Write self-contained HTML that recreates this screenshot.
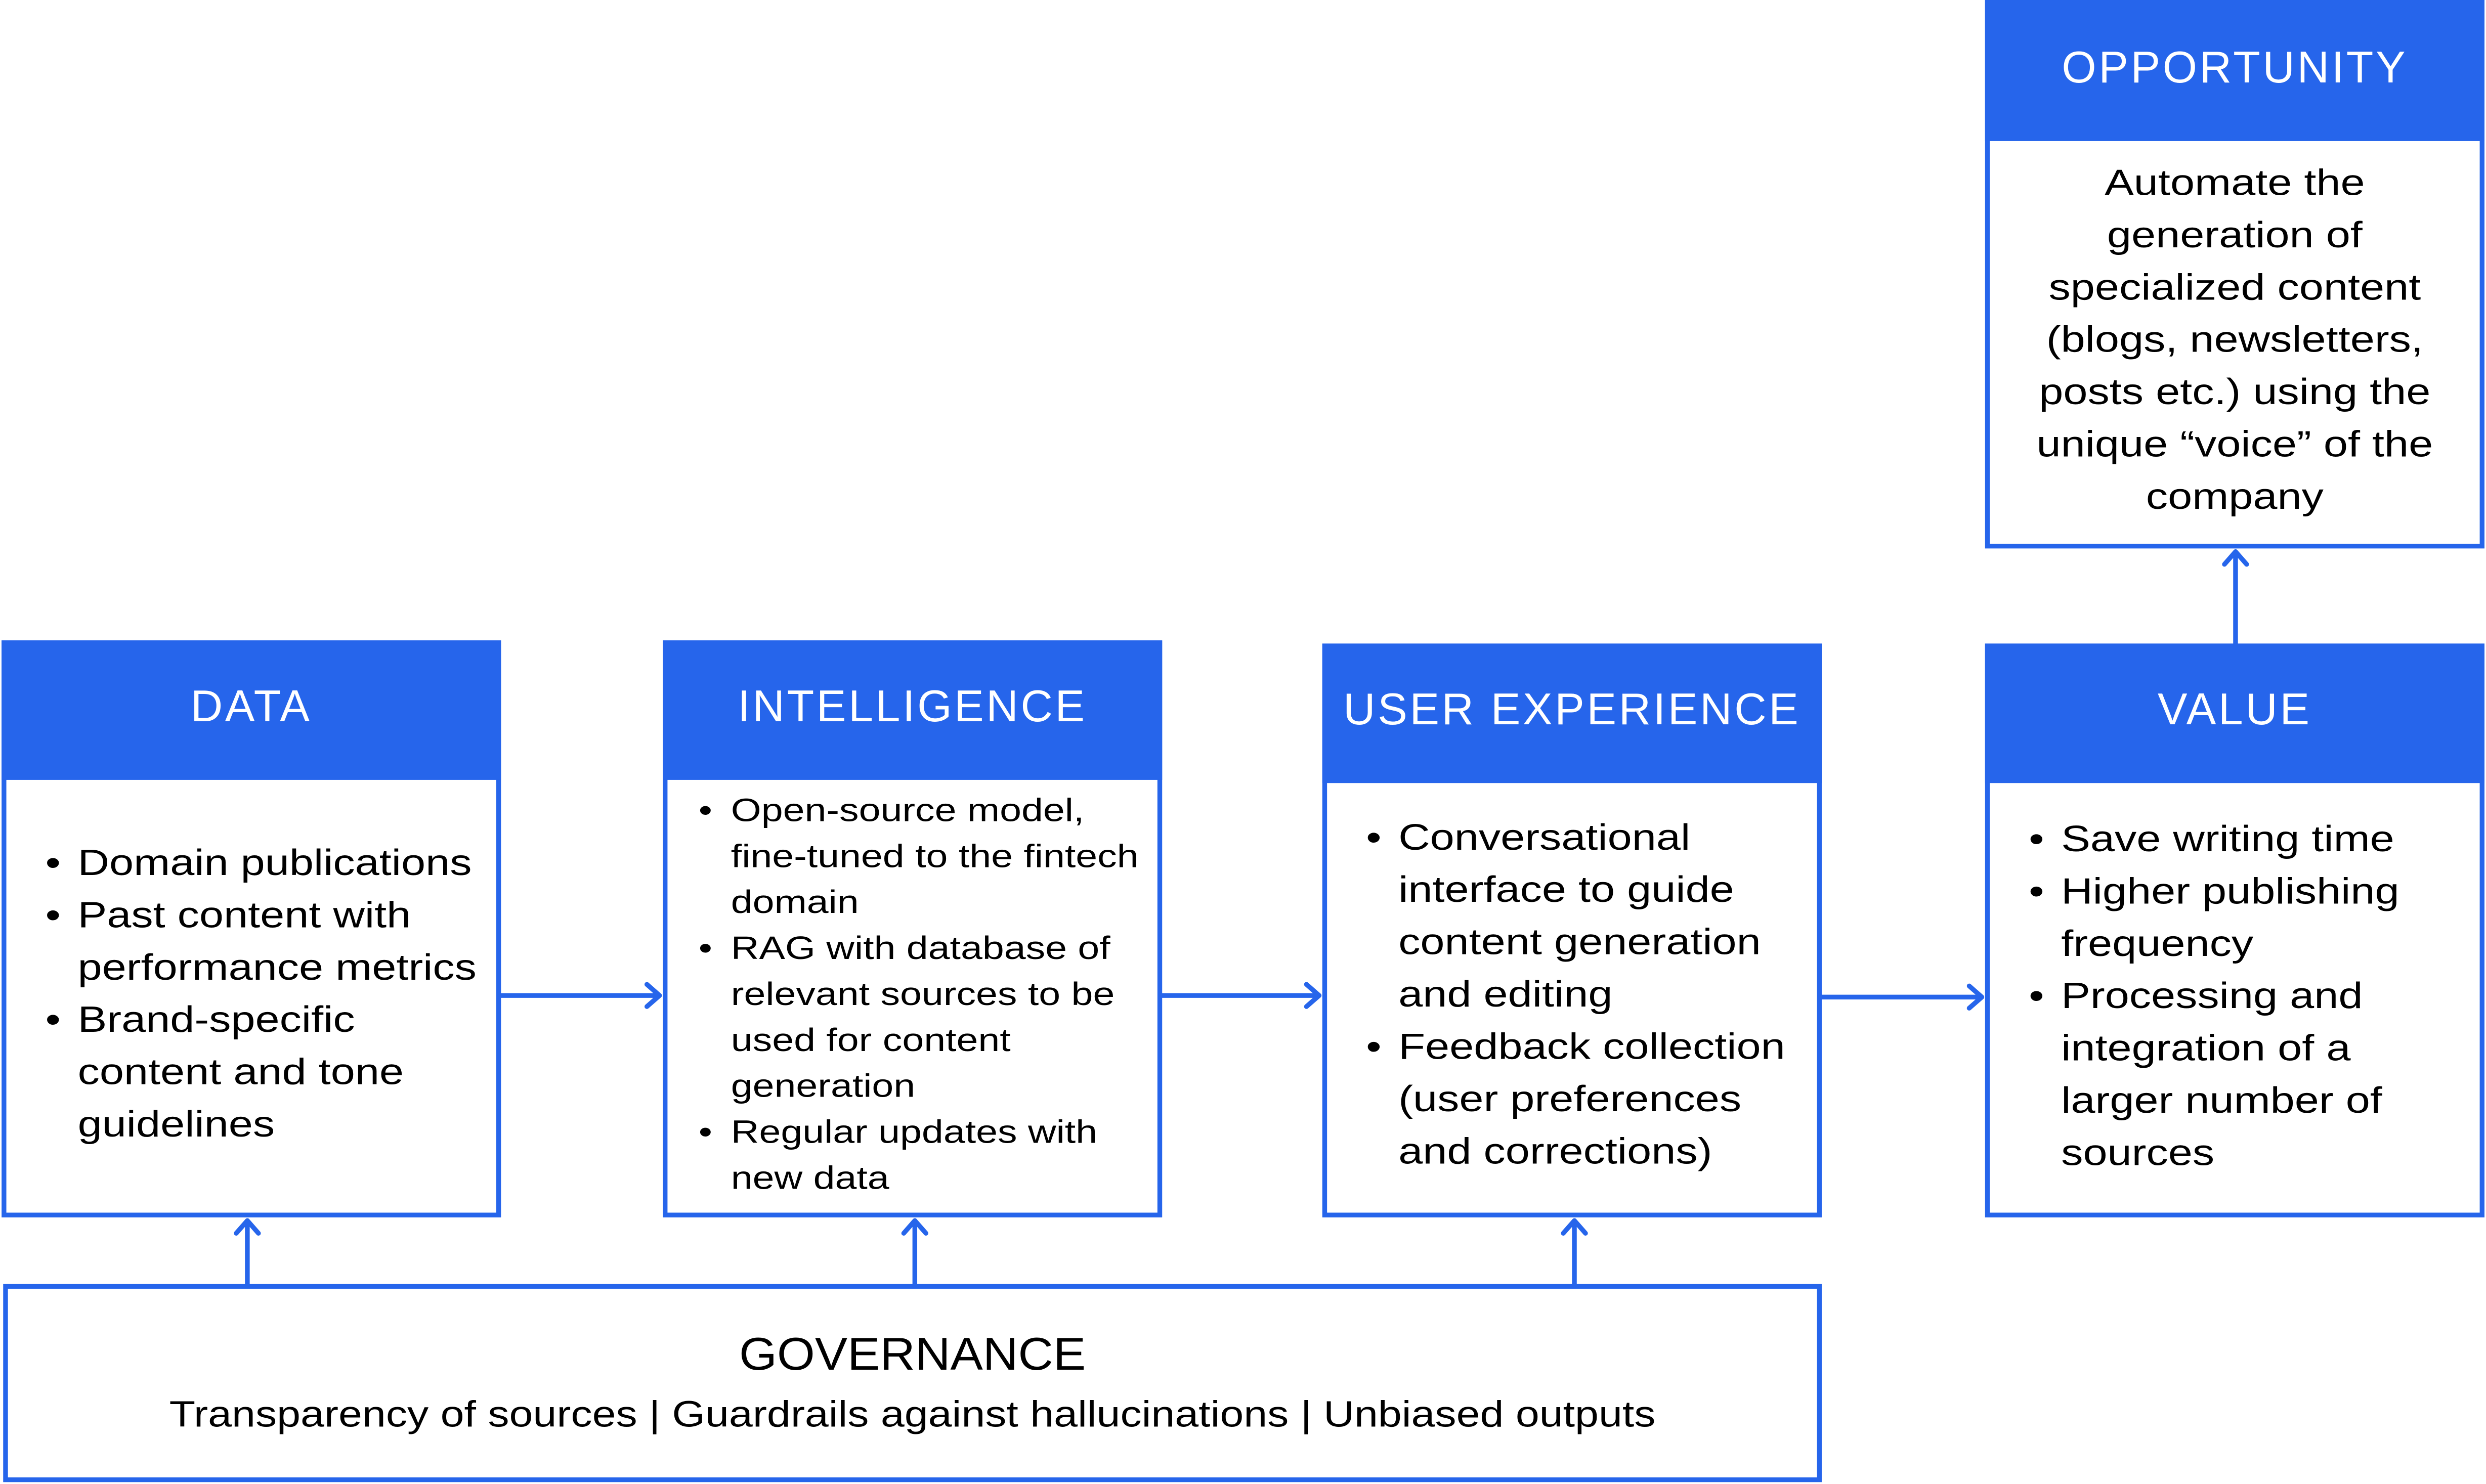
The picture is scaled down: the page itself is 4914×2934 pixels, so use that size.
<!DOCTYPE html>
<html><head><meta charset="utf-8"><style>
html,body{margin:0;padding:0;background:#fff;}
body{width:4914px;height:2934px;overflow:hidden;position:relative;}
#s{position:absolute;left:0;top:0;width:1568px;height:936px;transform:scale(3.134);transform-origin:0 0;font-family:"Liberation Sans",sans-serif;color:#000;}
.box{position:absolute;border:3px solid #2665eb;box-sizing:border-box;background:#fff;}
.hd{position:absolute;left:-3px;right:-3px;top:-3px;background:#2665eb;color:#fff;font-size:28px;text-align:center;letter-spacing:1.5px;}
.t{position:absolute;white-space:nowrap;transform:scaleX(1.2);transform-origin:0 0;}
.c{transform-origin:50% 0;}
.t div{position:relative;}
.b::before{content:"•";position:absolute;left:-17px;}
</style></head><body><div id="s">

<div class="box" style="left:1px;top:404px;width:315px;height:364px;">
 <div class="hd" style="height:88px;line-height:84px;">DATA</div>
</div>
<div class="t" style="left:49px;top:528px;font-size:23px;line-height:33px;">
 <div class="b">Domain publications</div><div class="b">Past content with</div><div>performance metrics</div><div class="b">Brand-specific</div><div>content and tone</div><div>guidelines</div>
</div>

<div class="box" style="left:418px;top:404px;width:315px;height:364px;">
 <div class="hd" style="height:88px;line-height:84px;">INTELLIGENCE</div>
</div>
<div class="t" style="left:461px;top:497px;font-size:20.5px;line-height:29px;">
 <div class="b">Open-source model,</div><div>fine-tuned to the fintech</div><div>domain</div><div class="b">RAG with database of</div><div>relevant sources to be</div><div>used for content</div><div>generation</div><div class="b">Regular updates with</div><div>new data</div>
</div>

<div class="box" style="left:834px;top:406px;width:315px;height:362px;">
 <div class="hd" style="height:88px;line-height:84px;">USER EXPERIENCE</div>
</div>
<div class="t" style="left:882px;top:512px;font-size:23px;line-height:33px;">
 <div class="b">Conversational</div><div>interface to guide</div><div>content generation</div><div>and editing</div><div class="b">Feedback collection</div><div>(user preferences</div><div>and corrections)</div>
</div>

<div class="box" style="left:1252px;top:406px;width:315px;height:362px;">
 <div class="hd" style="height:88px;line-height:84px;">VALUE</div>
</div>
<div class="t" style="left:1300px;top:513px;font-size:23px;line-height:33px;">
 <div class="b">Save writing time</div><div class="b">Higher publishing</div><div>frequency</div><div class="b">Processing and</div><div>integration of a</div><div>larger number of</div><div>sources</div>
</div>

<div class="box" style="left:1252px;top:-3px;width:315px;height:349px;">
 <div class="hd" style="height:92px;line-height:92px;">OPPORTUNITY</div>
</div>
<div class="t c" style="left:1252px;width:315px;top:99px;font-size:23px;line-height:33px;text-align:center;">
 <div>Automate the</div><div>generation of</div><div>specialized content</div><div>(blogs, newsletters,</div><div>posts etc.) using the</div><div>unique “voice” of the</div><div>company</div>
</div>

<div class="box" style="left:2px;top:810px;width:1147px;height:125px;"></div>
<div class="t c" style="left:2px;width:1147px;top:836px;text-align:center;font-size:29px;line-height:38px;transform:scaleX(1.06);">GOVERNANCE</div>
<div class="t c" style="left:2px;width:1147px;top:876px;text-align:center;font-size:23px;line-height:33px;transform:scaleX(1.17);">Transparency of sources | Guardrails against hallucinations | Unbiased outputs</div>

<svg style="position:absolute;left:0;top:0" width="1568" height="936" fill="none" stroke="#2665eb" stroke-width="3" stroke-linecap="round" stroke-linejoin="round">
 <path d="M316 628H416M408 621L416 628L408 635"/>
 <path d="M733 628H832M824 621L832 628L824 635"/>
 <path d="M1149 629H1250M1242 622L1250 629L1242 636"/>
 <path d="M1410 406V348M1403 356L1410 348L1417 356"/>
 <path d="M156 810V770M149 778L156 770L163 778"/>
 <path d="M577 810V770M570 778L577 770L584 778"/>
 <path d="M993 810V770M986 778L993 770L1000 778"/>
</svg>
</div></body></html>
